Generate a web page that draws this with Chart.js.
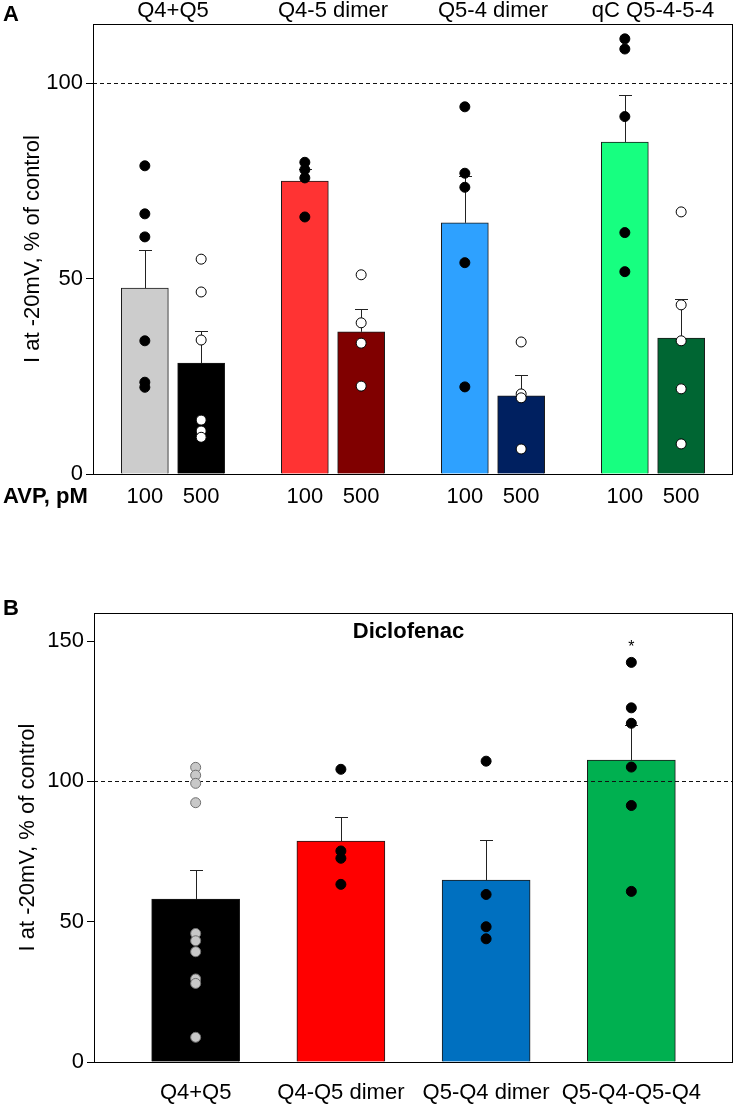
<!DOCTYPE html>
<html><head><meta charset="utf-8">
<script src="https://cdn.jsdelivr.net/npm/chart.js@4/dist/chart.umd.min.js"></script>
<style>
html,body{margin:0;padding:0;background:#fff;}
#wrapA{position:absolute;left:0;top:0;width:739px;height:540px;}
#wrapB{position:absolute;left:0;top:540px;width:739px;height:565px;}
canvas{display:block;}
</style></head><body>
<div id="wrapA"><canvas id="cA" width="739" height="540"></canvas></div>
<div id="wrapB"><canvas id="cB" width="739" height="565"></canvas></div>
<script>
// ---------- Panel A data ----------
const groupsA = ["Q4+Q5", "Q4-5 dimer", "Q5-4 dimer", "qC Q5-4-5-4"];
const dosesA = ["100", "500"];
const meanA100 = [47.6, 75.0, 64.3, 85.0];
const semA100 = [9.8, 3.1, 12.0, 12.1];
const meanA500 = [28.4, 36.4, 20.0, 34.8];
const semA500 = [8.2, 5.8, 5.4, 10.0];
const ptsA100 = [
  [78.9, 66.6, 60.7, 34.1, 23.5, 22.2],
  [79.8, 77.9, 75.8, 65.8],
  [94.0, 77.0, 73.4, 54.1, 22.3],
  [111.4, 108.8, 91.5, 61.8, 51.8]
];
const ptsA500 = [
  [55.0, 46.6, 34.3, 13.8, 11.0, 9.4],
  [51.0, 38.7, 33.5, 22.5],
  [33.8, 20.5, 19.5, 6.4],
  [67.1, 43.3, 34.1, 21.8, 7.7]
];
const colorsA100 = ["#cccccc", "#ff3333", "#2ea1ff", "#17ff80"];
const colorsA500 = ["#000000", "#800000", "#002060", "#006633"];
const yTicksA = [0, 50, 100];
const yMaxA = 115.2;

// ---------- Panel B data ----------
const groupsB = ["Q4+Q5", "Q4-Q5 dimer", "Q5-Q4 dimer", "Q5-Q4-Q5-Q4"];
const meanB = [58.1, 78.7, 64.8, 107.6];
const semB = [10.3, 8.6, 14.3, 12.4];
const ptsB = [
  [105.0, 102.2, 99.3, 92.4, 45.8, 43.2, 39.3, 29.6, 28.0, 8.8],
  [104.3, 75.2, 72.6, 63.3],
  [107.2, 59.7, 48.2, 43.9],
  [142.4, 126.2, 120.7, 105.1, 91.4, 60.8]
];
const colorsB = ["#000000", "#ff0000", "#0070c0", "#00b050"];
const sigB = ["", "", "", "*"];
const yTicksB = [0, 50, 100, 150];
const yMaxB = 160;

const controlLevel = 100;
const yTitle = "I at -20mV, % of control";
const doseAxisLabel = "AVP, pM";
const drugLabel = "Diclofenac";

// ---------- common ----------
const FONT = '"Liberation Sans", Arial, Helvetica, sans-serif';
Chart.defaults.font.family = FONT;
Chart.defaults.color = '#000';

function makeDecor(cfg) {
  return {
    id: 'decor',
    afterDatasetDraw(chart, args) {
      if (args.meta.type !== 'bar') return;
      const ctx = chart.ctx, xs = chart.scales.x, ys = chart.scales.y, ca = chart.chartArea;
      ctx.save();
      ctx.strokeStyle = '#111'; ctx.lineWidth = 1; ctx.setLineDash([4, 3]);
      const yc = Math.round(ys.getPixelForValue(controlLevel)) + 0.5;
      ctx.beginPath(); ctx.moveTo(ca.left, yc); ctx.lineTo(ca.right, yc); ctx.stroke();
      ctx.setLineDash([]);
      ctx.strokeStyle = '#222';
      cfg.errors.forEach(e => {
        const px = Math.round(xs.getPixelForValue(e.x)) + 0.5;
        const y0 = ys.getPixelForValue(e.m);
        const y1 = Math.round(ys.getPixelForValue(e.m + e.s)) + 0.5;
        ctx.beginPath();
        ctx.moveTo(px, y0); ctx.lineTo(px, y1);
        ctx.moveTo(px - 6.5, y1); ctx.lineTo(px + 6.5, y1);
        ctx.stroke();
      });
      ctx.restore();
    },
    afterDraw(chart) {
      const ctx = chart.ctx, ca = chart.chartArea;
      ctx.save();
      ctx.strokeStyle = '#000'; ctx.lineWidth = 1;
      const l = Math.round(ca.left) + 0.5, t = Math.round(ca.top) + 0.5;
      const r = Math.round(ca.right) - 0.5, b = Math.round(ca.bottom) + 0.5;
      ctx.strokeRect(l, t, r - l, b - t);
      ctx.fillStyle = '#000';
      cfg.texts(chart, ctx);
      ctx.restore();
    }
  };
}

function yAxis(ticksArr, max, width, titlePad) {
  return {
    type: 'linear', position: 'left', min: 0, max: max,
    grid: { display: true, drawOnChartArea: false, drawTicks: true, tickLength: 7, color: '#000', tickColor: '#000' },
    border: { display: false },
    afterBuildTicks: s => { s.ticks = ticksArr.map(v => ({ value: v })); },
    afterFit: s => { s.width = width; },
    ticks: { padding: 3, color: '#000', font: { size: 22 } },
    title: { display: true, text: yTitle, color: '#000', font: { size: 22 }, padding: { top: titlePad, bottom: 0 } }
  };
}

// ---------- Panel A ----------
const offA = 0.176;
function xPosA(g, d) { return g + (d === 0 ? -offA : offA); }
const barDataA = [], barColA = [], errA = [], doseTickPos = [];
groupsA.forEach((g, i) => {
  barDataA.push({ x: xPosA(i, 0), y: meanA100[i] }); barColA.push(colorsA100[i]);
  barDataA.push({ x: xPosA(i, 1), y: meanA500[i] }); barColA.push(colorsA500[i]);
  errA.push({ x: xPosA(i, 0), m: meanA100[i], s: semA100[i] });
  errA.push({ x: xPosA(i, 1), m: meanA500[i], s: semA500[i] });
  doseTickPos.push(xPosA(i, 0), xPosA(i, 1));
});
const ptDataA100 = ptsA100.flatMap((arr, i) => arr.map(v => ({ x: xPosA(i, 0), y: v })));
const ptDataA500 = ptsA500.flatMap((arr, i) => arr.map(v => ({ x: xPosA(i, 1), y: v })));

new Chart(document.getElementById('cA'), {
  type: 'bar',
  data: {
    datasets: [
      { type: 'bar', data: barDataA, backgroundColor: barColA, borderColor: '#1a1a1a', borderWidth: 1,
        barThickness: 47, order: 2, xAxisID: 'x', yAxisID: 'y' },
      { type: 'scatter', data: ptDataA100, pointRadius: 5, pointBackgroundColor: '#000', pointBorderColor: '#000',
        pointBorderWidth: 1, order: 1, xAxisID: 'x', yAxisID: 'y' },
      { type: 'scatter', data: ptDataA500, pointRadius: 5, pointBackgroundColor: '#fff', pointBorderColor: '#000',
        pointBorderWidth: 1, order: 1, xAxisID: 'x', yAxisID: 'y' }
    ]
  },
  options: {
    responsive: false, animation: false, devicePixelRatio: 1, events: [],
    layout: { padding: { left: 0, right: 3, top: 0, bottom: 0 } },
    plugins: { legend: { display: false }, tooltip: { enabled: false } },
    scales: {
      x: {
        type: 'linear', position: 'bottom', min: -0.5, max: 3.5, offset: false,
        grid: { display: false, drawTicks: false }, border: { display: false },
        afterBuildTicks: s => { s.ticks = doseTickPos.map(v => ({ value: v })); },
        afterFit: s => { s.height = 66; },
        ticks: { autoSkip: false, maxRotation: 0, minRotation: 0, padding: 10, color: '#000', font: { size: 22 },
          callback: (v, i) => dosesA[i % 2] }
      },
      x2: {
        type: 'linear', position: 'top', min: -0.5, max: 3.5, offset: false,
        grid: { display: false, drawTicks: false }, border: { display: false },
        afterBuildTicks: s => { s.ticks = groupsA.map((g, i) => ({ value: i })); },
        afterFit: s => { s.height = 24; },
        ticks: { autoSkip: false, maxRotation: 0, minRotation: 0, padding: 0, color: '#000', font: { size: 22 },
          callback: (v, i) => groupsA[i] }
      },
      y: yAxis(yTicksA, yMaxA, 93, 20)
    }
  },
  plugins: [makeDecor({
    errors: errA,
    texts(chart, ctx) {
      const ca = chart.chartArea;
      ctx.textBaseline = 'middle'; ctx.textAlign = 'left';
      ctx.font = 'bold 22px ' + FONT;
      ctx.fillText('A', 3, 15);
      ctx.fillText(doseAxisLabel, 3, ca.bottom + 23);
    }
  })]
});

// ---------- Panel B ----------
function xPosB(g) { return g; }
const barDataB = meanB.map((m, i) => ({ x: xPosB(i), y: m }));
const errB = meanB.map((m, i) => ({ x: xPosB(i), m: m, s: semB[i] }));
const ptDatasetsB = ptsB.map((arr, i) => ({
  type: 'scatter', data: arr.map(v => ({ x: xPosB(i), y: v })), pointRadius: 5,
  pointBackgroundColor: i === 0 ? '#c8c8c8' : '#000', pointBorderColor: i === 0 ? '#707070' : '#000',
  pointBorderWidth: 1, order: 1, xAxisID: 'x', yAxisID: 'y'
}));

new Chart(document.getElementById('cB'), {
  type: 'bar',
  data: {
    datasets: [
      { type: 'bar', data: barDataB, backgroundColor: colorsB, borderColor: '#1a1a1a', borderWidth: 1,
        barThickness: 88, order: 2, xAxisID: 'x', yAxisID: 'y' },
      ...ptDatasetsB
    ]
  },
  options: {
    responsive: false, animation: false, devicePixelRatio: 1, events: [],
    layout: { padding: { left: 0, right: 4, top: 73, bottom: 0 } },
    plugins: { legend: { display: false }, tooltip: { enabled: false } },
    scales: {
      x: {
        type: 'linear', position: 'bottom', min: -0.7, max: 3.7, offset: false,
        grid: { display: false, drawTicks: false }, border: { display: false },
        afterBuildTicks: s => { s.ticks = groupsB.map((g, i) => ({ value: xPosB(i) })); },
        afterFit: s => { s.height = 43; },
        ticks: { autoSkip: false, maxRotation: 0, minRotation: 0, padding: 18, color: '#000', font: { size: 22 },
          callback: (v, i) => groupsB[i] }
      },
      y: yAxis(yTicksB, yMaxB, 94, 15)
    }
  },
  plugins: [makeDecor({
    errors: errB,
    texts(chart, ctx) {
      const ca = chart.chartArea, xs = chart.scales.x, ys = chart.scales.y;
      ctx.textBaseline = 'middle'; ctx.textAlign = 'left';
      ctx.font = 'bold 22px ' + FONT;
      ctx.fillText('B', 3, ca.top - 4);
      ctx.textAlign = 'center';
      ctx.fillText(drugLabel, (ca.left + ca.right) / 2 - 5, ca.top + 19);
      ctx.font = '16px ' + FONT;
      ctx.textBaseline = 'alphabetic';
      sigB.forEach((s, i) => {
        if (!s) return;
        const top = Math.max(...ptsB[i], meanB[i] + semB[i]);
        const cy = ys.getPixelForValue(top) - 20;
        ctx.fillText(s, xs.getPixelForValue(xPosB(i)), cy + 0.57 * 16);
      });
    }
  })]
});
</script>
</body></html>
